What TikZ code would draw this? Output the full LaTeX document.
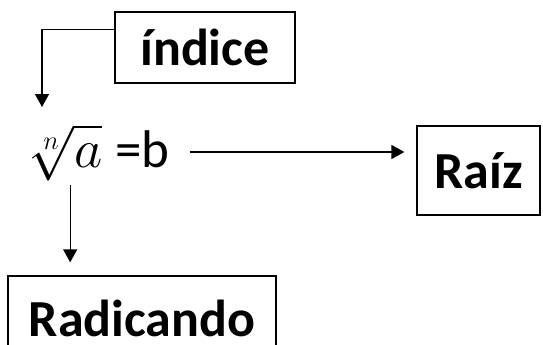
\documentclass[tikz,border=0pt]{standalone}
\usepackage{fontspec}
\usepackage{graphicx}
\setmainfont{Carlito}
\usetikzlibrary{arrows.meta}
\begin{document}
\begin{tikzpicture}[x=1pt,y=-1pt,
  box/.style={draw=black,line width=1.3pt,inner sep=0pt,font=\fontsize{52}{52}\selectfont\bfseries},
  arr/.style={line width=1.3pt,-{Triangle[length=13pt,width=14pt]}}]
\path[use as bounding box,clip] (0,0) rectangle (543,345);
\fill[white] (0,0) rectangle (543,345);
% boxes
\node[box,minimum width=180pt,minimum height=71pt] (idx) at (205,47.5) {índice};
\node[box,minimum width=123pt,minimum height=89pt] (raiz) at (478.5,170.5) {Raíz};
\node[box,minimum width=268pt,minimum height=84pt] (rad) at (142,318) {Radicando};
% expression
\node[inner sep=0pt,anchor=base west] (expr) at (28,167) {\scalebox{2.2}{\fontsize{24}{24}\selectfont$\sqrt[n]{a}$}};
\node[inner sep=0pt,anchor=base west,font=\fontsize{53}{53}\selectfont] (eqb) at (115,167) {=b};
% connectors
\coordinate (c1) at (42,107);
\draw[arr] ([yshift=-18pt]idx.north west) -| (c1);
\path ([xshift=20pt,yshift=15pt]eqb.base east) coordinate (s1);
\draw[arr,shorten >=12pt] (s1) -- (s1 -| raiz.west);
\path ([xshift=5pt,yshift=-4pt]expr.south) coordinate (s2);
\draw[arr,shorten >=13pt] (s2) -- (s2 |- rad.north);
\end{tikzpicture}
\end{document}
